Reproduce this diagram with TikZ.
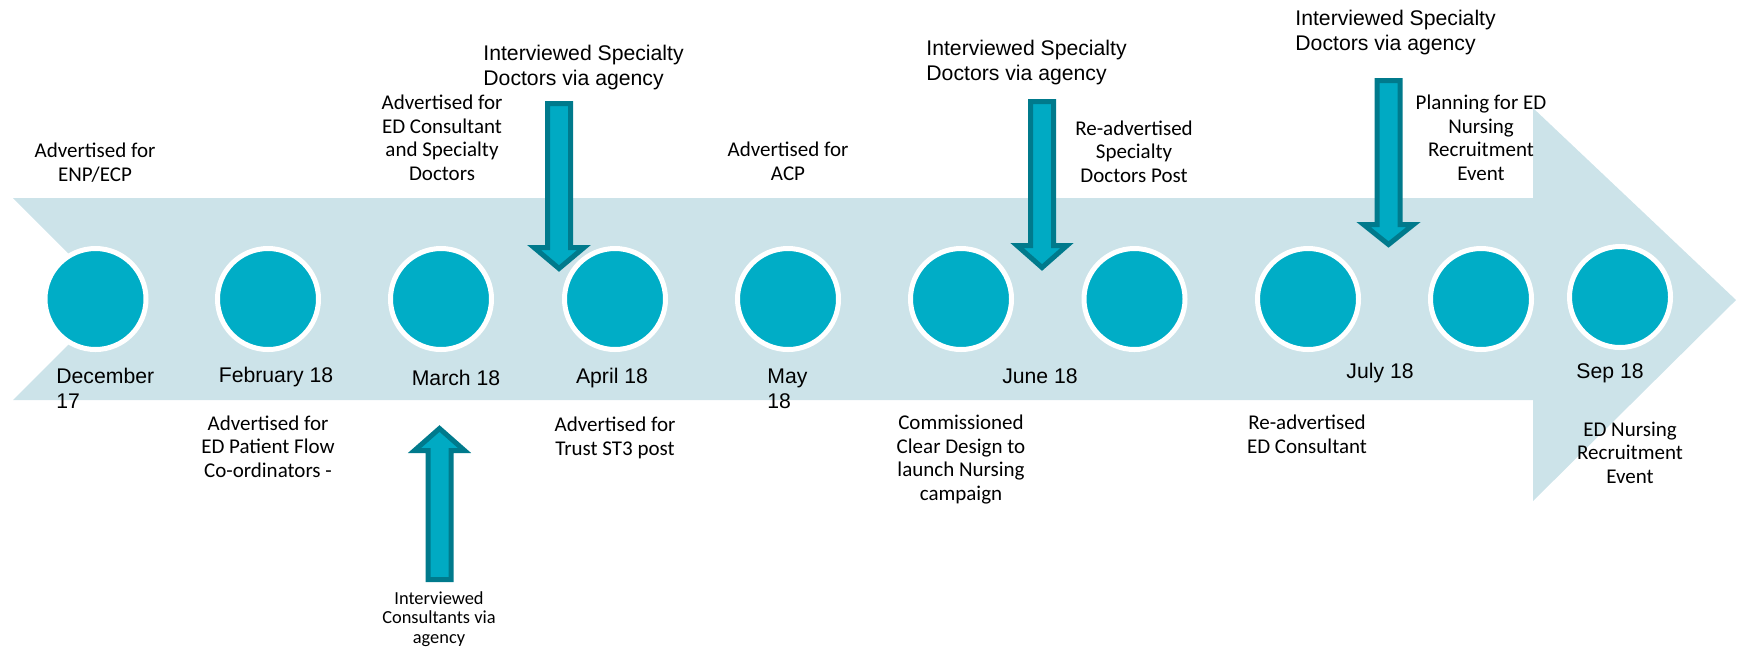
\documentclass[tikz,border=0pt]{standalone}
\usepackage{fontspec}
\newfontfamily\arialfont{Liberation Sans}
\newfontfamily\calfont{Carlito}
\definecolor{band}{RGB}{204,227,233}
\definecolor{dot}{RGB}{0,173,198}
\definecolor{pointfill}{RGB}{0,170,195}
\definecolor{pointline}{RGB}{0,122,140}
\tikzset{
  month/.style={font=\arialfont\fontsize{10.6}{12.5}\selectfont,inner sep=0pt,anchor=base},
  note/.style={font=\calfont\fontsize{10.5}{11.7}\selectfont,align=center,inner sep=0pt,anchor=base},
  smallnote/.style={note,font=\calfont\fontsize{9.2}{9.7}\selectfont},
  agency/.style={font=\arialfont\fontsize{10.6}{12.5}\selectfont,align=left,inner sep=0pt,anchor=base west},
  dotnode/.style={circle,fill=dot,draw=white,line width=2.5pt,minimum size=50.5pt,inner sep=0pt},
  pointer/.style={fill=pointfill,draw=pointline,line width=2.5pt,line join=miter},
}

\begin{document}
\begin{tikzpicture}[x=0.5pt,y=-0.5pt]
  \useasboundingbox (0,0) rectangle (1743,650);

  % the big timeline arrow
  \fill[band] (13,198) -- (1533,198) -- (1533,108) -- (1736,300) -- (1533,501)
    -- (1533,400) -- (13,400) -- (114,299) -- cycle;

  % milestones
  \foreach \x/\y/\n in {95.5/299/m1, 268/299/m2, 441/299/m3, 615/299/m4, 788/299/m5,
      961/299/m6, 1134.5/299/m7, 1308/299/m8, 1481/299/m9, 1620/297/m10}
    \node[dotnode] (\n) at (\x,\y) {};

  % months (base = last line)
  \node[month,align=left,anchor=base west] (dec) at (56,408) {December\\17};
  \node[month] (feb) at (276,382) {February 18};
  \node[month] (mar) at (456,385) {March 18};
  \node[month] (apr) at (612,383) {April 18};
  \node[month,align=left,anchor=base west] (may) at (767,408) {May\\18};
  \node[month] (jun) at (1040,383) {June 18};
  \node[month] (jul) at (1380,378) {July 18};
  \node[month] (sep) at (1610,378) {Sep 18};

  % what happened, above and below the line
  \node[note] (enp) at (95,181) {Advertised for\\ENP/ECP};
  \node[note] (flow) at (268,477) {Advertised for\\ED Patient Flow\\Co-ordinators -};
  \node[note] (cons) at (442,180) {Advertised for\\ED Consultant\\and Specialty\\Doctors};
  \node[note] (st3) at (615,455) {Advertised for\\Trust ST3 post};
  \node[note] (acp) at (788,180) {Advertised for\\ACP};
  \node[note] (clear) at (961,500) {Commissioned\\Clear Design to\\launch Nursing\\campaign};
  \node[note] (respec) at (1134,182) {Re-advertised\\Specialty\\Doctors Post};
  \node[note] (recons) at (1307,453) {Re-advertised\\ED Consultant};
  \node[note] (plan) at (1481,180) {Planning for ED\\Nursing\\Recruitment\\Event};
  \node[note] (event) at (1630,483) {ED Nursing\\Recruitment\\Event};
  \node[smallnote] (intcons) at (439,643) {Interviewed\\Consultants via\\agency};

  \node[agency] (int1) at (483,85) {Interviewed Specialty\\Doctors via agency};
  \node[agency] (int2) at (926,80) {Interviewed Specialty\\Doctors via agency};
  \node[agency] (int3) at (1295,50) {Interviewed Specialty\\Doctors via agency};

  % block arrows
  \draw[pointer] (547.5,103.5) -- (570.5,103.5) -- (570.5,247.5) -- (584,247.5)
    -- (559,268.5) -- (534,247.5) -- (547.5,247.5) -- cycle;
  \draw[pointer] (1030.5,101.5) -- (1053.5,101.5) -- (1053.5,245.5) -- (1067,245.5)
    -- (1042,267.5) -- (1017,245.5) -- (1030.5,245.5) -- cycle;
  \draw[pointer] (1377,80.5) -- (1400,80.5) -- (1400,224.5) -- (1413.5,224.5)
    -- (1388.5,244.5) -- (1363.5,224.5) -- (1377,224.5) -- cycle;
  \draw[pointer] (428,579.5) -- (451,579.5) -- (451,450.5) -- (464.5,450.5)
    -- (439.5,428.5) -- (414.5,450.5) -- (428,450.5) -- cycle;
\end{tikzpicture}
\end{document}
